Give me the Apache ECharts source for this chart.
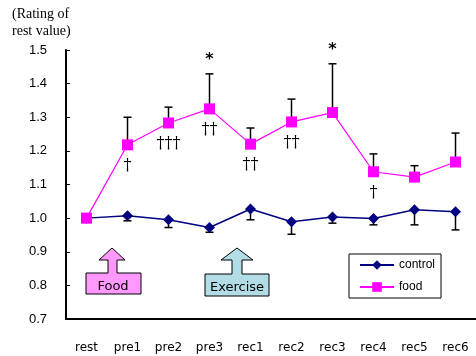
<!DOCTYPE html>
<html>
<head>
<meta charset="utf-8">
<script src="https://cdn.jsdelivr.net/npm/echarts@6/dist/echarts.min.js"></script>
<style>html,body{margin:0;padding:0;background:#fff}#c{width:476px;height:356px}</style>
</head>
<body>
<div id="c"></div>
<script>
var categories = ['rest','pre1','pre2','pre3','rec1','rec2','rec3','rec4','rec5','rec6'];
var controlValues = [1.000, 1.007, 0.995, 0.972, 1.027, 0.989, 1.003, 0.999, 1.025, 1.019];
var controlErrLow = [1.000, 0.992, 0.972, 0.958, 0.995, 0.952, 0.985, 0.980, 0.980, 0.965];
var foodValues = [1.000, 1.218, 1.283, 1.325, 1.220, 1.286, 1.314, 1.138, 1.122, 1.167];
var foodErrHigh = [1.000, 1.300, 1.330, 1.429, 1.268, 1.354, 1.459, 1.191, 1.156, 1.253];
var foodAbove = ['', '', '', '*', '', '', '*', '', '', ''];
var foodBelow = ['', '\u2020', '\u2020\u2020\u2020', '\u2020\u2020', '\u2020\u2020', '\u2020\u2020', '', '\u2020', '', ''];
var yTicks = [0.7, 0.8, 0.9, 1.0, 1.1, 1.2, 1.3, 1.4, 1.5];

var chart = echarts.init(document.getElementById('c'), null, {renderer: 'canvas'});

function errBar(color) {
  return function (params, api) {
    var i = api.value(0);
    var p0 = api.coord([i, api.value(1)]);
    var p1 = api.coord([i, api.value(2)]);
    var children = [];
    if (Math.abs(p1[1] - p0[1]) > 1) {
      children.push({type: 'line', shape: {x1: p0[0], y1: p0[1], x2: p1[0], y2: p1[1]}, style: {stroke: '#000', lineWidth: 1.5}});
      children.push({type: 'line', shape: {x1: p1[0] - 4, y1: p1[1], x2: p1[0] + 4, y2: p1[1]}, style: {stroke: '#000', lineWidth: 1.5}});
    }
    return {type: 'group', children: children};
  };
}

var foodErrData = categories.map(function (c, i) { return [i, foodValues[i], foodErrHigh[i]]; });
var ctrlErrData = categories.map(function (c, i) { return [i, controlValues[i], controlErrLow[i]]; });
var annData = categories.map(function (c, i) { return [i, foodValues[i], foodErrHigh[i]]; });

var option = {
  animation: false,
  grid: {left: 66, right: 0, top: 50, bottom: 37, containLabel: false},
  xAxis: {
    type: 'category',
    data: categories,
    boundaryGap: true,
    axisLine: {lineStyle: {color: '#000', width: 2}},
    axisTick: {inside: true, length: 4, lineStyle: {color: '#000', width: 1}},
    axisLabel: {color: '#000', fontSize: 12, fontFamily: 'DejaVu Sans', margin: 23, interval: 0}
  },
  yAxis: {
    type: 'value',
    min: yTicks[0],
    max: yTicks[yTicks.length - 1],
    interval: 0.1,
    splitLine: {show: false},
    axisLine: {show: true, lineStyle: {color: '#000', width: 2}},
    axisTick: {show: true, inside: true, length: 4, lineStyle: {color: '#000', width: 1}},
    axisLabel: {color: '#000', fontSize: 13, fontFamily: 'Liberation Sans', margin: 19,
      formatter: function (v) { return v.toFixed(1); }}
  },
  legend: {
    orient: 'vertical',
    left: 349,
    top: 254,
    width: 94,
    padding: [5, 6, 5, 10],
    borderColor: '#000',
    borderWidth: 1,
    itemWidth: 34,
    itemHeight: 12,
    itemGap: 10,
    data: ['control', 'food'],
    textStyle: {color: '#000', fontSize: 12, fontFamily: 'Liberation Sans', padding: [6, 0, 0, 0]}
  },
  graphic: [
    {type: 'text', left: 12, top: 6, style: {text: '(Rating of\nrest value)', font: '14px "Liberation Serif"', fill: '#000', lineHeight: 17}},
    {type: 'polygon', shape: {points: [[86,273],[108,273],[108,260],[99,260],[112,248],[125,260],[117,260],[117,273],[141,273],[141,294],[86,294]]},
      style: {fill: '#ff99ff', stroke: '#000', lineWidth: 1}, z: 10},
    {type: 'text', x: 113, y: 287, style: {text: 'Food', font: '13px "DejaVu Sans"', fill: '#000', align: 'center', verticalAlign: 'middle'}, z: 11},
    {type: 'polygon', shape: {points: [[205,274],[232,274],[232,260],[221,260],[237,248],[253,260],[242,260],[242,274],[269,274],[269,296],[205,296]]},
      style: {fill: '#b3dde6', stroke: '#000', lineWidth: 1}, z: 10},
    {type: 'text', x: 237, y: 288, style: {text: 'Exercise', font: '13px "DejaVu Sans"', fill: '#000', align: 'center', verticalAlign: 'middle'}, z: 11}
  ],
  series: [
    {type: 'custom', name: 'ctrlErr', data: ctrlErrData, renderItem: errBar('#000'), z: 1, silent: true},
    {type: 'custom', name: 'foodErr', data: foodErrData, renderItem: errBar('#000'), z: 1, silent: true},
    {
      name: 'control', type: 'line', data: controlValues, symbol: 'diamond', symbolSize: 11,
      itemStyle: {color: '#000080'}, lineStyle: {color: '#000080', width: 1.5}, z: 3
    },
    {
      name: 'food', type: 'line', data: foodValues, symbol: 'rect', symbolSize: 11,
      itemStyle: {color: '#ff00ff'}, lineStyle: {color: '#ff00ff', width: 1.2}, z: 4
    },
    {
      type: 'custom', name: 'ann', data: annData, z: 5, silent: true,
      renderItem: function (params, api) {
        var i = api.value(0);
        var pv = api.coord([i, api.value(1)]);
        var pe = api.coord([i, api.value(2)]);
        var ch = [];
        if (foodAbove[i]) ch.push({type: 'text', x: pe[0], y: pe[1] - 14,
          style: {text: foodAbove[i], font: 'bold 16px "DejaVu Sans"', fill: '#000', align: 'center', verticalAlign: 'middle'}});
        if (foodBelow[i]) ch.push({type: 'text', x: pv[0], y: pv[1] + 21,
          style: {text: foodBelow[i], font: '16px "DejaVu Serif"', fill: '#000', align: 'center', verticalAlign: 'middle'}});
        return {type: 'group', children: ch};
      }
    }
  ]
};
chart.setOption(option);
</script>
</body>
</html>
